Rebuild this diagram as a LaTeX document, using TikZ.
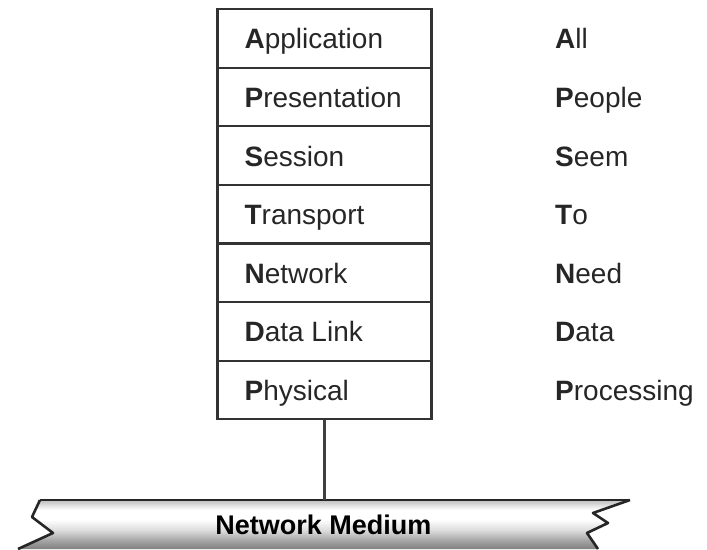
\documentclass[tikz,border=0pt]{standalone}
\usepackage{fontspec}
\setmainfont{Liberation Sans}
\pgfdeclareverticalshading{mediumshade}{100bp}{color(0bp)=(black!50); color(25bp)=(black!50); color(34bp)=(black!35); color(44bp)=(black!14); color(55bp)=(white); color(65bp)=(white); color(72bp)=(black!18); color(75bp)=(black!25); color(100bp)=(black!25)}
\begin{document}
\begin{tikzpicture}[x=1pt,y=-1pt,
  layerbox/.style={draw=black!80, line width=2.2pt, minimum width=214pt, minimum height=58.6pt, inner sep=0pt},
  lbl/.style={anchor=west, inner sep=0pt, text height=21pt, text depth=0pt, font=\fontsize{28}{30}\selectfont, text=black!85},
  wire/.style={draw=black!75, line width=2.2pt},
  edge/.style={draw=black!85, line width=2.6pt, line join=round}]
\useasboundingbox (0,0) rectangle (707,549);

% OSI layer stack
\foreach \i/\yc in {1/38.3,2/96.9,3/155.5,4/214.1,5/272.7,6/331.3,7/389.9}{
  \node[layerbox] (L\i) at (324.5,\yc) {};
}
\node[lbl] (T1) at ([xshift=28pt]L1.west) {\textbf{A}pplication};
\node[lbl] (T2) at ([xshift=28pt]L2.west) {\textbf{P}resentation};
\node[lbl] (T3) at ([xshift=28pt]L3.west) {\textbf{S}ession};
\node[lbl] (T4) at ([xshift=28pt]L4.west) {\textbf{T}ransport};
\node[lbl] (T5) at ([xshift=28pt]L5.west) {\textbf{N}etwork};
\node[lbl] (T6) at ([xshift=28pt]L6.west) {\textbf{D}ata Link};
\node[lbl] (T7) at ([xshift=28pt]L7.west) {\textbf{P}hysical};

% mnemonic column
\node[lbl] (M1) at (555,38.3) {\textbf{A}ll};
\node[lbl] (M2) at (555,96.9) {\textbf{P}eople};
\node[lbl] (M3) at (555,155.5) {\textbf{S}eem};
\node[lbl] (M4) at (555,214.1) {\textbf{T}o};
\node[lbl] (M5) at (555,272.7) {\textbf{N}eed};
\node[lbl] (M6) at (555,331.3) {\textbf{D}ata};
\node[lbl] (M7) at (555,389.9) {\textbf{P}rocessing};

% network medium bar with torn ends
\path[shading=mediumshade]
  (40,500) -- (630,500) -- (593,513) -- (608,523) -- (587,533) -- (598,549)
  -- (18,549) -- (53,533) -- (32,517) -- cycle;
\draw[edge] (40,500) -- (630,500);
\draw[edge] (630,500) -- (593,513) -- (608,523) -- (587,533) -- (598,549);
\draw[edge] (40,500) -- (32,517) -- (53,533) -- (18,549);
\coordinate (mtop) at (L7.south |- 0,500);
\node[anchor=center, inner sep=0pt, text height=20pt, text depth=0pt,
      font=\fontsize{27}{29}\selectfont\bfseries] (medium) at (323.5,524) {Network Medium};

% link from the physical layer down to the medium
\draw[wire] (L7.south) -- (mtop);
\end{tikzpicture}
\end{document}
